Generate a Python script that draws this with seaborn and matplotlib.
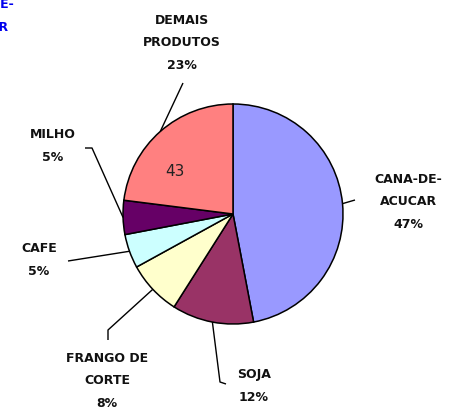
import matplotlib
matplotlib.use("Agg")
import matplotlib.pyplot as plt
import numpy as np
import seaborn as sns

# pie data (clockwise from 12 o'clock)
categories = ["CANA-DE-\nACUCAR", "SOJA", "FRANGO DE\nCORTE", "CAFE", "MILHO", "DEMAIS\nPRODUTOS"]
shares = [47, 12, 8, 5, 5, 23]
pct_labels = ["47%", "12%", "8%", "5%", "5%", "23%"]
colors = ["#9999FF", "#993366", "#FFFFCC", "#CCFFFF", "#660066", "#FF8080"]
inner_value = "43"

sns.set_theme(style="white")
plt.rcParams["font.family"] = ["DejaVu Sans"]

W, H = 461, 414
CX, CY, R = 233, 215, 110


# pixel position -> data coordinates (pie radius = 1)
def px(x, y):
    return ((x - CX) / R, (CY - y) / R)


fig = plt.figure(figsize=(W / 100, H / 100), dpi=100)
ax = fig.add_axes([0, 0, 1, 1])

wedges, _ = ax.pie(shares, colors=colors, startangle=90, counterclock=False,
                   radius=1.0, wedgeprops=dict(edgecolor="black", linewidth=1.1))

ax.set_xlim(-CX / R, (W - CX) / R)
ax.set_ylim(-(H - CY) / R, CY / R)
ax.set_aspect("equal")
ax.axis("off")

# label text positions and leader paths (pixels) - layout only
label_pos = [(408, 202), (254, 386), (107, 381), (39, 260), (53, 146), (182, 43)]
leader_pts = [
    [(355, 201)],
    [(220, 383), (226, 385)],
    [(108, 331), (108, 341)],
    [(68, 262)],
    [(92, 149), (85, 149)],
    [(183, 84)],
]

for i, w in enumerate(wedges):
    ang = np.deg2rad((w.theta1 + w.theta2) / 2)
    ex, ey = np.cos(ang), np.sin(ang)
    pts = [(ex, ey)] + [px(*p) for p in leader_pts[i]]
    xs, ys = zip(*pts)
    ax.plot(xs, ys, color="black", lw=1.0, solid_capstyle="butt")
    tx, ty = px(*label_pos[i])
    ax.text(tx, ty, categories[i] + "\n" + pct_labels[i], ha="center", va="center",
            fontsize=9, fontweight="bold", color="#111111", linespacing=1.95)

# value shown inside the DEMAIS PRODUTOS slice
ax.text(*px(175, 172), inner_value, ha="center", va="center", fontsize=11, color="#222222")

# clipped blue text at top-left corner
ax.text(*px(-20, 16), "CANA-DE-\nACUCAR", ha="center", va="center", fontsize=9,
        fontweight="bold", color="#0000EE", linespacing=1.95)

fig.savefig("out.png", dpi=100)
